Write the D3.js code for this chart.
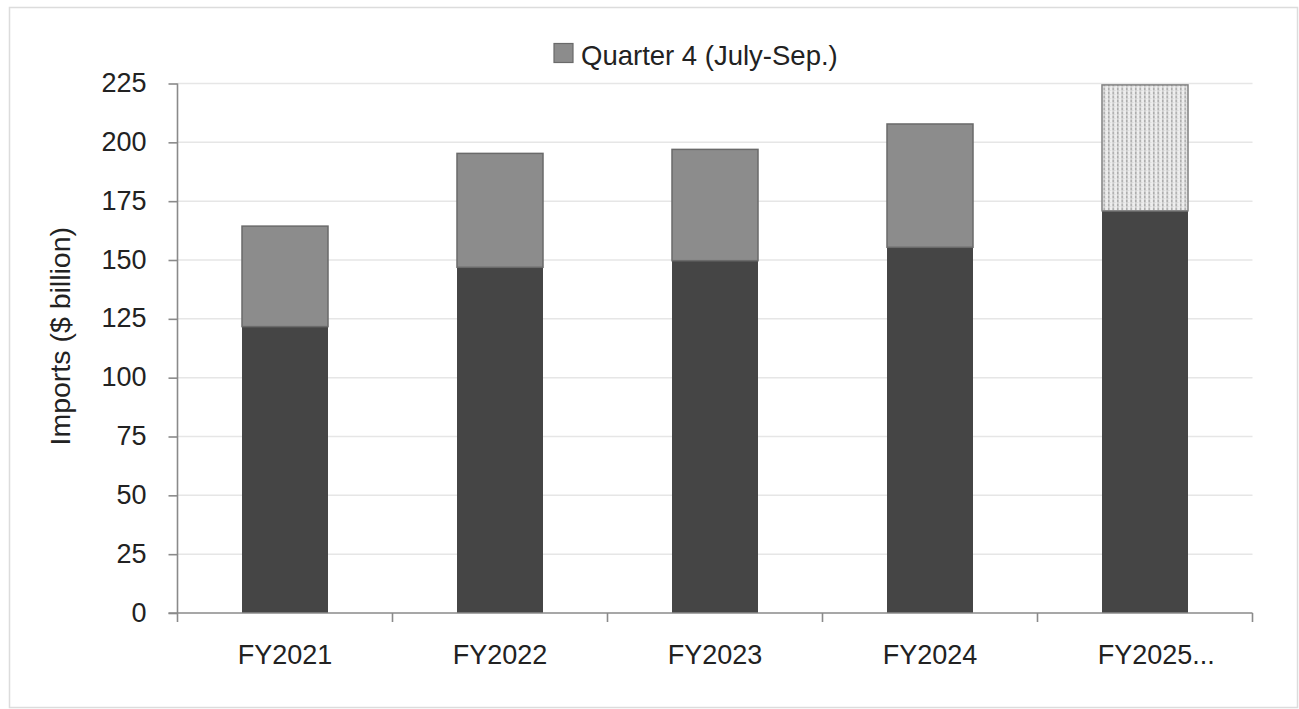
<!DOCTYPE html>
<html>
<head>
<meta charset="utf-8">
<script src="https://cdn.jsdelivr.net/npm/d3@7"></script>
<style>
  html, body { margin: 0; padding: 0; background: #fff; }
  svg { display: block; font-family: "Liberation Sans", Arial, sans-serif; }
</style>
</head>
<body>
<svg id="chart" width="1299" height="709"></svg>
<script>
// Fiscal-year imports, split into Q1–Q3 (dark) and Quarter 4 (July–Sep.)
const categories = ["FY2021", "FY2022", "FY2023", "FY2024", "FY2025..."];
const firstThreeQuarters = [121.7, 146.9, 149.7, 155.4, 170.9];
const quarter4 = [42.7, 48.4, 47.3, 52.4, 53.5];
const projected = [false, false, false, false, true];
const yTicks = [0, 25, 50, 75, 100, 125, 150, 175, 200, 225];

const svg = d3.select("#chart");
const W = 1299, H = 709;
const margin = { left: 177.5, right: 46.5, top: 83.5, bottom: 96 };

const x = d3.scaleBand()
  .domain(categories)
  .range([margin.left, W - margin.right])
  .paddingInner(0.6)
  .paddingOuter(0.3);

const y = d3.scaleLinear()
  .domain([0, 225])
  .range([H - margin.bottom, margin.top]);

// outer frame
svg.append("rect")
  .attr("x", 9.5).attr("y", 7.5)
  .attr("width", 1288).attr("height", 700)
  .attr("fill", "none")
  .attr("stroke", "#dcdcdc")
  .attr("stroke-width", 1.5);

// dotted fill for the not-yet-final quarter
const defs = svg.append("defs");
const pat = defs.append("pattern")
  .attr("id", "dots")
  .attr("patternUnits", "userSpaceOnUse")
  .attr("width", 4.5).attr("height", 4);
pat.append("rect").attr("width", 4.5).attr("height", 4).attr("fill", "#eeeeee");
pat.append("rect").attr("x", 1).attr("y", 0).attr("width", 1.5).attr("height", 2).attr("fill", "#a4a4a4");
pat.append("rect").attr("x", 1).attr("y", 2).attr("width", 1.5).attr("height", 2).attr("fill", "#c8c8c8");
pat.append("rect").attr("x", 3).attr("y", 2).attr("width", 1).attr("height", 1).attr("fill", "#d6d6d6");

// gridlines
svg.append("g")
  .selectAll("line")
  .data(yTicks.filter(d => d > 0))
  .join("line")
  .attr("x1", margin.left).attr("x2", W - margin.right)
  .attr("y1", d => y(d)).attr("y2", d => y(d))
  .attr("stroke", "#e6e6e6")
  .attr("stroke-width", 1.5);

const rows = categories.map((c, i) => ({
  cat: c, base: firstThreeQuarters[i], q4: quarter4[i], proj: projected[i]
}));

// Q1–Q3 segment
svg.append("g")
  .selectAll("rect")
  .data(rows)
  .join("rect")
  .attr("x", d => x(d.cat))
  .attr("width", x.bandwidth())
  .attr("y", d => y(d.base))
  .attr("height", d => y(0) - y(d.base))
  .attr("fill", "#454545");

// Quarter 4 segment
svg.append("g")
  .selectAll("rect")
  .data(rows)
  .join("rect")
  .attr("x", d => x(d.cat))
  .attr("width", x.bandwidth())
  .attr("y", d => y(d.base + d.q4))
  .attr("height", d => y(d.base) - y(d.base + d.q4))
  .attr("fill", d => d.proj ? "url(#dots)" : "#8c8c8c")
  .attr("stroke", d => d.proj ? "#808080" : "#6a6a6a")
  .attr("stroke-width", 1.5);

// y axis
const yAxis = svg.append("g")
  .attr("transform", `translate(${margin.left},0)`)
  .call(d3.axisLeft(y).tickValues(yTicks).tickSize(9).tickPadding(22));
yAxis.select(".domain").attr("stroke", "#8a8a8a").attr("stroke-width", 1.6)
  .attr("d", `M0,${y(225)}V${y(0) + 9}`);
yAxis.selectAll(".tick line").attr("stroke", "#8a8a8a").attr("stroke-width", 1.6);
yAxis.selectAll(".tick text").attr("font-size", 27).attr("fill", "#222").attr("dy", "0.3em");

// x axis: ticks at category boundaries
const xAxis = svg.append("g")
  .attr("transform", `translate(0,${y(0)})`)
  .call(d3.axisBottom(x).tickSize(0).tickPadding(32));
xAxis.select(".domain").attr("stroke", "#8a8a8a").attr("stroke-width", 1.6)
  .attr("d", `M${margin.left - 9},0H${W - margin.right}`);
xAxis.selectAll(".tick text").attr("font-size", 27).attr("fill", "#222")
  .each(function (d) {
    // keep the year stem centred under its bar; a trailing ellipsis hangs right
    const t = d3.select(this);
    const stem = d.replace(/\.+$/, "");
    if (stem !== d) {
      const full = this.getComputedTextLength();
      t.text(stem);
      const w = this.getComputedTextLength();
      t.text(d).attr("dx", (full - w) / 2);
    }
  });
const step = x.step();
xAxis.append("g")
  .selectAll("line")
  .data(d3.range(1, categories.length + 1))
  .join("line")
  .attr("x1", i => margin.left + i * step).attr("x2", i => margin.left + i * step)
  .attr("y1", 0).attr("y2", 9)
  .attr("stroke", "#8a8a8a").attr("stroke-width", 1.6);

// y axis title
svg.append("text")
  .attr("transform", `translate(70,${(y(0) + y(225)) / 2 - 12}) rotate(-90)`)
  .attr("text-anchor", "middle")
  .attr("font-size", 28.5)
  .attr("fill", "#222")
  .text("Imports ($ billion)");

// legend
const lg = svg.append("g");
lg.append("rect")
  .attr("x", 554).attr("y", 43.5)
  .attr("width", 19).attr("height", 19)
  .attr("fill", "#8c8c8c")
  .attr("stroke", "#6a6a6a").attr("stroke-width", 1.2);
lg.append("text")
  .attr("x", 581).attr("y", 64.5)
  .attr("font-size", 27.5)
  .attr("fill", "#222")
  .text("Quarter 4 (July-Sep.)");
</script>
</body>
</html>
